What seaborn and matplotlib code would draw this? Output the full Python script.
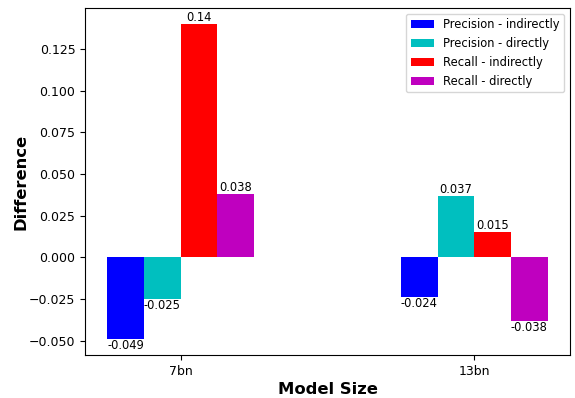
import matplotlib
matplotlib.use("Agg")
import matplotlib.pyplot as plt
import pandas as pd
import seaborn as sns

# values
model_sizes = ["7bn", "13bn"]
series_names = ["Precision - indirectly", "Precision - directly",
                "Recall - indirectly", "Recall - directly"]
diff_7bn = [-0.049, -0.025, 0.14, 0.038]
diff_13bn = [-0.024, 0.037, 0.015, -0.038]
bar_colors = ["b", "c", "r", "m"]

rows = []
for size, vals in zip(model_sizes, [diff_7bn, diff_13bn]):
    for name, v in zip(series_names, vals):
        rows.append([size, name, v])
df = pd.DataFrame(rows, columns=["size", "metric", "diff"])

fig, ax = plt.subplots(figsize=(5.75, 3.98), dpi=100)
sns.barplot(data=df, x="size", y="diff", hue="metric", order=model_sizes,
            hue_order=series_names, palette=bar_colors, saturation=1,
            width=0.5, errorbar=None, linewidth=0, ax=ax)

# value labels
for cont in ax.containers:
    for rect in cont:
        v = rect.get_height()
        x = rect.get_x() + rect.get_width() / 2
        ax.text(x, v, f"{v:g}", ha="center",
                va="bottom" if v >= 0 else "top", fontsize=8.3)

ax.set_xlim(-0.325, 1.325)
ax.set_ylim(-0.0585, 0.1495)
ax.tick_params(labelsize=9)
ax.set_xlabel("Model Size", fontsize=11.8, fontweight="bold", labelpad=3)
ax.set_ylabel("Difference", fontsize=11.8, fontweight="bold", labelpad=0)
ax.legend(loc="upper right", fontsize=8.3)

fig.subplots_adjust(left=0.148, right=0.991, top=0.98, bottom=0.108)
plt.savefig("out.png")
plt.close()
